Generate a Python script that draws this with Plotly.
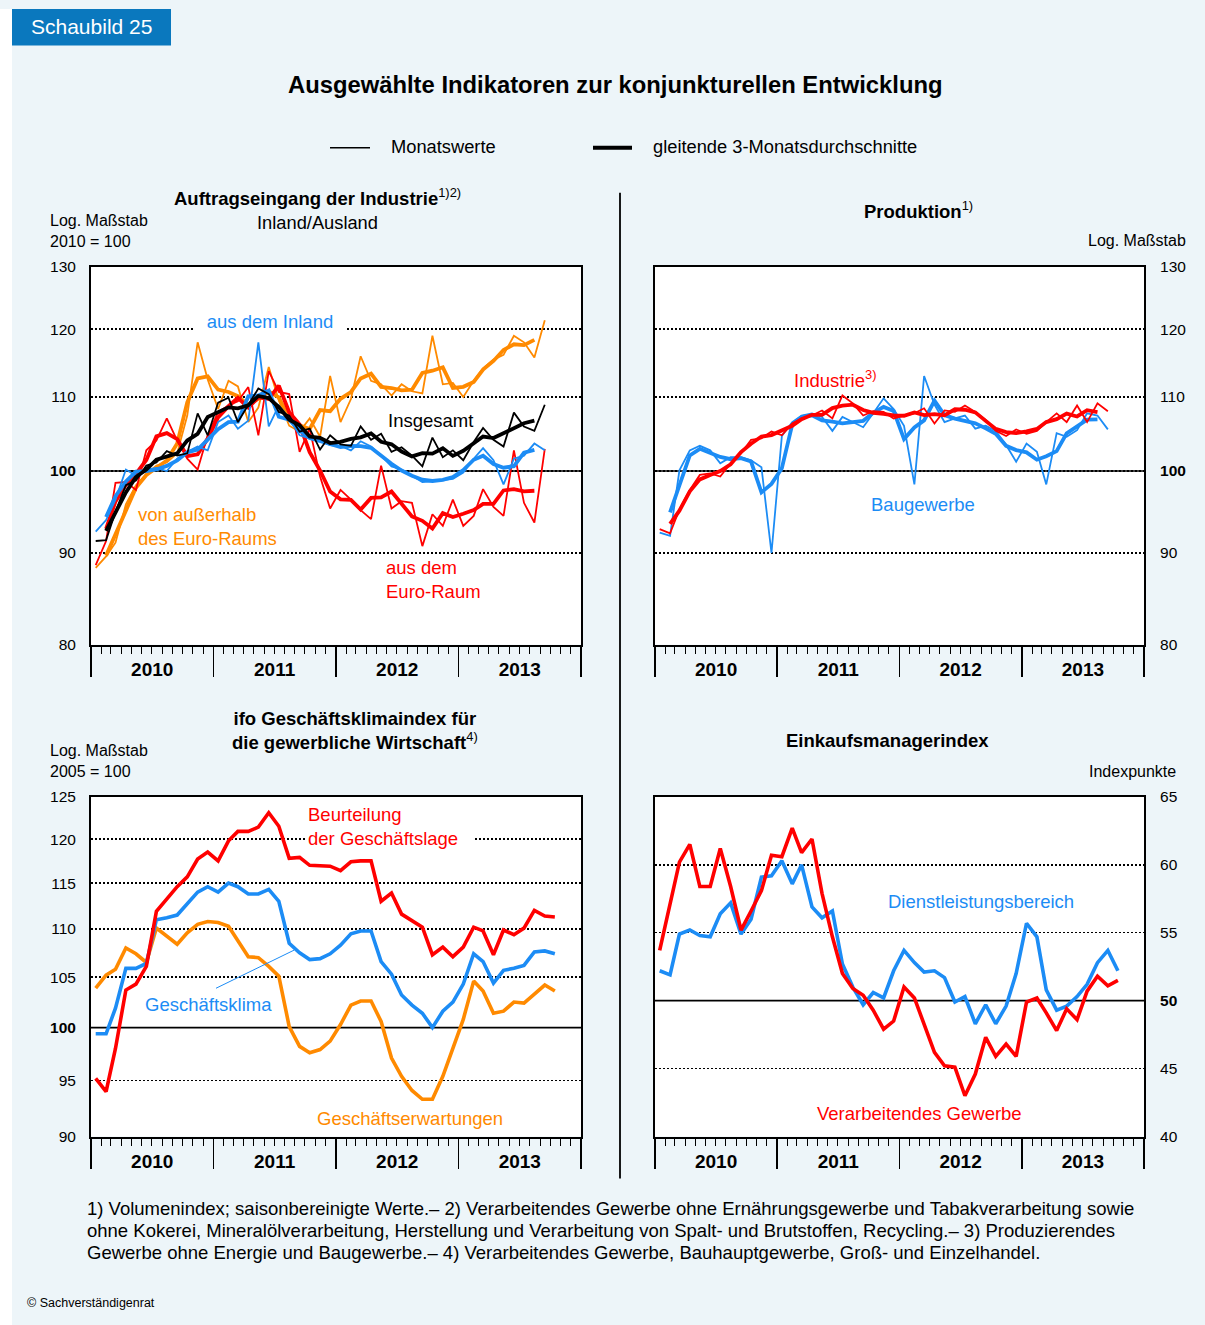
import numpy as np
import pandas as pd
import plotly.graph_objects as go

# ---------------- data ----------------
# Auftragseingang der Industrie (2010 = 100), monthly Jan 2010 - Sep 2013
auftrag_insgesamt = [91.4, 91.5, 94.9, 98.2, 98.8, 100.7, 101.1, 102.6, 102.0, 102.3,
                     107.7, 104.7, 109.2, 109.9, 106.5, 108.8, 111.2, 110.4, 107.9, 107.4,
                     105.2, 105.6, 102.8, 104.7, 103.5, 103.3, 105.9, 104.1, 104.9, 102.5,
                     103.1, 102.0, 100.6, 104.4, 101.8, 102.7, 101.4, 103.8, 105.7, 104.1,
                     103.2, 107.8, 105.9, 105.3, 108.9]
auftrag_ausserhalb = [88.3, 89.6, 91.2, 95.8, 98.2, 99.6, 100.7, 101.1, 102.3, 107.4,
                      118.0, 112.5, 108.3, 112.3, 111.5, 106.5, 108.5, 114.3, 109.5, 106.0,
                      105.2, 107.0, 104.5, 113.0, 106.5, 109.7, 115.9, 112.3, 111.8, 110.2,
                      111.8, 110.8, 110.5, 119.0, 111.8, 112.0, 110.0, 112.3, 114.1, 115.4,
                      116.1, 119.0, 118.0, 115.7, 121.4]
auftrag_inland = [92.5, 93.9, 96.4, 100.2, 99.4, 100.2, 100.4, 100.0, 101.6, 102.5,
                  103.2, 102.7, 106.5, 107.4, 105.6, 106.7, 118.0, 105.9, 108.8, 107.0,
                  104.7, 104.3, 104.0, 103.4, 103.3, 102.7, 103.9, 103.2, 102.0, 100.6,
                  100.2, 99.4, 98.6, 98.7, 98.9, 99.0, 99.8, 101.6, 103.0, 101.4,
                  98.3, 101.6, 102.0, 103.6, 102.7]
auftrag_euroraum = [88.6, 91.4, 98.5, 98.6, 97.6, 102.7, 104.0, 107.0, 104.0, 101.6,
                    100.2, 104.7, 107.9, 108.8, 109.4, 111.4, 104.7, 113.7, 110.7, 110.4,
                    102.5, 105.6, 99.3, 95.3, 97.6, 96.4, 95.1, 94.0, 100.7, 95.3,
                    96.2, 96.0, 90.8, 94.6, 93.2, 96.4, 93.2, 94.4, 97.7, 95.5,
                    94.4, 102.7, 96.0, 93.6, 102.9]

# Produktion (2010 = 100), monthly Jan 2010 - Sep 2013
prod_industrie = [92.8, 92.3, 95.2, 97.6, 99.5, 99.7, 99.3, 101.0, 102.3, 104.1,
                  104.3, 105.2, 104.7, 106.3, 107.0, 107.4, 108.1, 107.0, 110.2, 109.1,
                  107.4, 108.0, 107.9, 107.0, 107.4, 107.7, 108.4, 106.3, 108.1, 107.9,
                  108.8, 107.9, 106.8, 105.3, 104.6, 105.5, 104.9, 105.3, 106.5, 107.7,
                  106.5, 108.8, 106.5, 109.1, 108.0]
prod_bau = [92.4, 92.0, 100.1, 102.7, 103.3, 102.7, 101.0, 101.8, 101.8, 101.4,
            100.5, 90.0, 104.6, 106.5, 107.4, 107.7, 107.2, 105.3, 107.2, 106.5,
            105.8, 107.7, 109.8, 108.3, 106.0, 98.3, 113.0, 108.9, 106.5, 107.0,
            107.4, 105.6, 106.0, 105.3, 103.4, 101.2, 103.6, 102.5, 98.3, 105.0,
            104.5, 105.4, 107.7, 107.4, 105.5]

# ifo Geschaeftsklima (2005 = 100), monthly Jan 2010 - Oct 2013
ifo_lage = [95.2, 94.0, 98.0, 103.7, 104.3, 106.1, 111.9, 113.2, 114.6, 115.7,
            117.7, 118.5, 117.5, 119.8, 120.9, 120.9, 121.4, 123.1, 121.5, 117.8,
            117.9, 117.0, 116.9, 116.9, 116.4, 117.4, 117.5, 117.5, 113.0, 113.9,
            111.6, 110.9, 110.2, 107.3, 108.1, 107.1, 108.1, 110.2, 109.8, 107.3,
            109.9, 109.4, 110.1, 112.0, 111.4, 111.3]
ifo_klima = [99.4, 99.4, 101.9, 105.9, 105.9, 106.4, 111.0, 111.2, 111.5, 112.7,
             114.0, 114.6, 114.0, 115.0, 114.6, 113.8, 113.8, 114.3, 113.0, 108.5,
             107.5, 106.8, 106.9, 107.4, 108.3, 109.5, 109.8, 109.8, 106.6, 105.3,
             103.2, 102.2, 101.4, 100.0, 101.6, 102.5, 104.3, 107.4, 106.6, 104.4,
             105.7, 105.9, 106.2, 107.6, 107.7, 107.4]
ifo_erwartung = [103.9, 105.2, 105.8, 108.0, 107.4, 106.5, 110.1, 109.3, 108.4, 109.6,
                 110.5, 110.8, 110.7, 110.3, 108.7, 107.1, 107.0, 106.1, 105.1, 100.1,
                 98.2, 97.6, 97.9, 98.7, 100.3, 102.2, 102.6, 102.6, 100.6, 97.1,
                 95.4, 94.1, 93.3, 93.3, 95.4, 98.0, 100.8, 104.6, 103.6, 101.4,
                 101.6, 102.5, 102.4, 103.3, 104.2, 103.6]

# Einkaufsmanagerindex (Indexpunkte), monthly Jan 2010 - Oct 2013
pmi_verarbeitend = [53.7, 57.1, 60.2, 61.5, 58.4, 58.4, 61.2, 58.4, 55.2, 56.6,
                    58.1, 60.7, 60.6, 62.7, 60.9, 61.9, 57.9, 54.7, 52.0, 50.9,
                    50.4, 49.3, 47.9, 48.5, 51.0, 50.2, 48.3, 46.2, 45.2, 45.1,
                    43.0, 44.6, 47.3, 45.9, 46.8, 45.9, 49.9, 50.2, 49.1, 47.8,
                    49.4, 48.6, 50.7, 51.8, 51.1, 51.5]
pmi_dienst = [52.2, 51.9, 54.9, 55.2, 54.8, 54.7, 56.4, 57.2, 54.9, 56.0,
              59.1, 59.2, 60.3, 58.6, 60.0, 56.9, 56.1, 56.6, 52.7, 51.0,
              49.7, 50.6, 50.2, 52.2, 53.7, 52.8, 52.1, 52.2, 51.7, 49.9,
              50.3, 48.3, 49.7, 48.3, 49.6, 52.0, 55.7, 54.7, 50.8, 49.3,
              49.6, 50.3, 51.2, 52.8, 53.7, 52.2]

years = ["2010", "2011", "2012", "2013"]
ticks_log_top = [80, 90, 100, 110, 120, 130]
ticks_log_ifo = [90, 95, 100, 105, 110, 115, 120, 125]
ticks_pmi = [40, 45, 50, 55, 60, 65]

# ---------------- helpers ----------------
W = 1205
TOP = 9.5          # page rows above the figure in the photograph
SY = 0.9855        # vertical scale of the photograph
HF = 1335          # figure height
BG = "#EDF5F9"
BLUE = "#1C8CF5"
RED = "#FF0000"
ORANGE = "#FF8A00"
FONT = "Arial, Liberation Sans, Helvetica, sans-serif"


def X(px):
    return px / W


def Y(py):
    return 1 - ((py - TOP) / SY) / HF


def months(n):
    return pd.date_range("2010-01-01", periods=n, freq="MS") + pd.Timedelta(days=14)


def ma3(v):
    return pd.Series(v).rolling(3, center=True).mean().tolist()


fig = go.Figure()


def line(vals, color, width, ax):
    fig.add_trace(go.Scatter(x=months(len(vals)), y=vals, mode="lines",
                             line=dict(color=color, width=width),
                             xaxis="x" + ax, yaxis="y" + ax,
                             hoverinfo="skip", showlegend=False))


def refline(val, ax):
    fig.add_trace(go.Scatter(x=["2010-01-01", "2014-01-01"], y=[val, val], mode="lines",
                             line=dict(color="black", width=1.6),
                             xaxis="x" + ax, yaxis="y" + ax,
                             hoverinfo="skip", showlegend=False))


# reference lines first (under data)
refline(100, "")
refline(100, "2")
refline(100, "3")
refline(50, "4")

# Auftragseingang
THIN, THICK = 1.8, 3.8
for vals, col in [(auftrag_ausserhalb, ORANGE), (auftrag_euroraum, RED),
                  (auftrag_inland, BLUE), (auftrag_insgesamt, "black")]:
    line(vals, col, THIN, "")
    line(ma3(vals), col, THICK, "")

# Produktion
for vals, col in [(prod_bau, BLUE), (prod_industrie, RED)]:
    line(vals, col, THIN, "2")
    line(ma3(vals), col, THICK, "2")

# ifo
line(ifo_erwartung, ORANGE, 3.6, "3")
line(ifo_klima, BLUE, 3.6, "3")
line(ifo_lage, RED, 3.6, "3")

# PMI
line(pmi_dienst, BLUE, 3.6, "4")
line(pmi_verarbeitend, RED, 3.6, "4")

# ---------------- axes ----------------
xL = [X(91), X(581)]
xR = [X(655), X(1144)]
yT = [Y(644), Y(267)]
yB = [Y(1135), Y(796)]


def xaxis(domain, anchor):
    return dict(domain=domain, anchor=anchor, type="date",
                range=["2010-01-01", "2014-01-01"],
                showline=True, mirror=True, linecolor="black", linewidth=2,
                showgrid=False, zeroline=False,
                tick0="2010-01-01", dtick="M12", ticklabelmode="period", tickformat="%Y",
                ticks="outside", ticklen=30, tickwidth=1.5, tickcolor="black",
                ticklabelstandoff=-23,
                tickfont=dict(size=19, color="black", family=FONT, weight="bold"),
                minor=dict(dtick="M1", tick0="2010-01-01", ticks="outside", ticklen=7,
                           tickwidth=1, tickcolor="black", showgrid=False),
                fixedrange=True)


def yaxis(domain, anchor, side, vals, bold_val, log, rng, standoff):
    txt = [("<b>%d</b>" % v) if v == bold_val else str(v) for v in vals]
    d = dict(domain=domain, anchor=anchor, side=side,
             range=rng, tickmode="array", tickvals=vals, ticktext=txt,
             showgrid=True, gridcolor="black", griddash="2px,2px", gridwidth=1.5,
             showline=True, mirror=True, linecolor="black", linewidth=2,
             zeroline=False, ticks="", ticklabelstandoff=standoff,
             tickfont=dict(size=15.5, color="black", family=FONT), fixedrange=True)
    if log:
        d["type"] = "log"
    return d


lt = [np.log10(80), np.log10(130)]
lb = [np.log10(90), np.log10(125)]

fig.update_layout(
    xaxis=xaxis(xL, "y"), yaxis=yaxis(yT, "x", "left", ticks_log_top, 100, True, lt, 10),
    xaxis2=xaxis(xR, "y2"), yaxis2=yaxis(yT, "x2", "right", ticks_log_top, 100, True, lt, 11),
    xaxis3=xaxis(xL, "y3"), yaxis3=yaxis(yB, "x3", "left", ticks_log_ifo, 100, True, lb, 10),
    xaxis4=xaxis(xR, "y4"), yaxis4=yaxis(yB, "x4", "right", ticks_pmi, 50, False, [40, 65], 11),
)

# ---------------- shapes ----------------
shapes = []
# white outer strip on the left
shapes.append(dict(type="rect", xref="paper", yref="paper", x0=0, x1=X(12), y0=0, y1=1,
                   fillcolor="white", line=dict(width=0), layer="below"))
# Schaubild box
shapes.append(dict(type="rect", xref="paper", yref="paper", x0=X(12), x1=X(171), y0=Y(46), y1=Y(9.5),
                   fillcolor="#0A78BE", line=dict(width=0)))
# legend lines
shapes.append(dict(type="line", xref="paper", yref="paper", x0=X(330), x1=X(370), y0=Y(148), y1=Y(148),
                   line=dict(color="black", width=1.5)))
shapes.append(dict(type="line", xref="paper", yref="paper", x0=X(593), x1=X(632), y0=Y(148), y1=Y(148),
                   line=dict(color="black", width=4)))
# divider
shapes.append(dict(type="line", xref="paper", yref="paper", x0=X(620), x1=X(620), y0=Y(1177), y1=Y(193),
                   line=dict(color="black", width=1.8)))
# pointer Geschäftsklima
shapes.append(dict(type="line", xref="paper", yref="paper", x0=X(216), x1=X(294), y0=Y(987), y1=Y(949),
                   line=dict(color=BLUE, width=1)))
fig.update_layout(shapes=shapes)

# ---------------- annotations ----------------
ann = []


def text(t, x, y, size=15, color="black", xanchor="left", bold=False, **kw):
    if bold:
        t = "<b>" + t + "</b>"
    ann.append(dict(text=t, x=X(x), y=Y(y), xref="paper", yref="paper", showarrow=False,
                    xanchor=xanchor, yanchor="middle",
                    align=("center" if xanchor == "center" else xanchor),
                    font=dict(size=size, color=color, family=FONT), **kw))


text("Schaubild 25", 91, 27, size=21, color="white", xanchor="center")
text("Ausgewählte Indikatoren zur konjunkturellen Entwicklung", 615, 85, size=23.8, xanchor="center", bold=True)
text("Monatswerte", 389, 147, size=18.3)
text("gleitende 3-Monatsdurchschnitte", 651, 147, size=18.3)

# panel headers
text("<b>Auftragseingang der Industrie</b><sup>1)2)</sup>", 317, 197, size=18.5, xanchor="center")
text("Inland/Ausland", 317, 223, size=18.3, xanchor="center")
text("Log. Maßstab<br>2010 = 100", 48, 231, size=16)
text("<b>Produktion</b><sup>1)</sup>", 918, 210, size=18.5, xanchor="center")
text("Log. Maßstab", 1188, 241, size=16, xanchor="right")
text("<b>ifo Geschäftsklimaindex für<br>die gewerbliche Wirtschaft</b><sup>4)</sup>", 355, 730, size=18.5,
     xanchor="center")
text("Log. Maßstab<br>2005 = 100", 48, 760, size=16)
text("Einkaufsmanagerindex", 887, 740, size=18.5, xanchor="center", bold=True)
text("Indexpunkte", 1178, 771, size=16, xanchor="right")

# series labels
LS = 18.5
text("aus dem Inland", 270, 321, size=LS, color=BLUE, xanchor="center", bgcolor="white", width=150, height=22)
text("Insgesamt", 430, 420, size=LS, xanchor="center")
text("von außerhalb<br>des Euro-Raums", 136, 526, size=LS, color=ORANGE)
text("aus dem<br>Euro-Raum", 384, 579, size=LS, color=RED)
text("Industrie<sup>3)</sup>", 792, 379, size=LS, color=RED)
text("Baugewerbe", 923, 504, size=LS, color=BLUE, xanchor="center")
text("Beurteilung<br>der Geschäftslage", 306, 826, size=LS, color=RED, bgcolor="white", width=165,
     borderpad=1)
text("Geschäftsklima", 143, 1003, size=LS, color=BLUE)
text("Geschäftserwartungen", 315, 1117, size=LS, color=ORANGE)
text("Dienstleistungsbereich", 886, 900, size=LS, color=BLUE)
text("Verarbeitendes Gewerbe", 815, 1112, size=LS, color=RED)

# footnotes
FN = 18.5
text("1) Volumenindex; saisonbereinigte Werte.– 2) Verarbeitendes Gewerbe ohne Ernährungsgewerbe und "
     "Tabakverarbeitung sowie", 85, 1207, size=FN)
text("ohne Kokerei, Mineralölverarbeitung, Herstellung und Verarbeitung von Spalt- und Brutstoffen, "
     "Recycling.– 3) Produzierendes", 85, 1229, size=FN)
text("Gewerbe ohne Energie und Baugewerbe.– 4) Verarbeitendes Gewerbe, Bauhauptgewerbe, Groß- und "
     "Einzelhandel.", 85, 1251, size=FN)
text("© Sachverständigenrat", 25, 1301, size=12.5)

fig.update_layout(annotations=ann)

fig.update_layout(width=W, height=HF, autosize=False,
                  margin=dict(l=0, r=0, t=0, b=0, pad=0),
                  paper_bgcolor=BG, plot_bgcolor="white",
                  font=dict(family=FONT, color="black"),
                  showlegend=False)

fig.write_html("out.html", config={"displayModeBar": False, "staticPlot": True},
               post_script="document.body.style.margin='0';document.body.style.overflow='hidden';")
